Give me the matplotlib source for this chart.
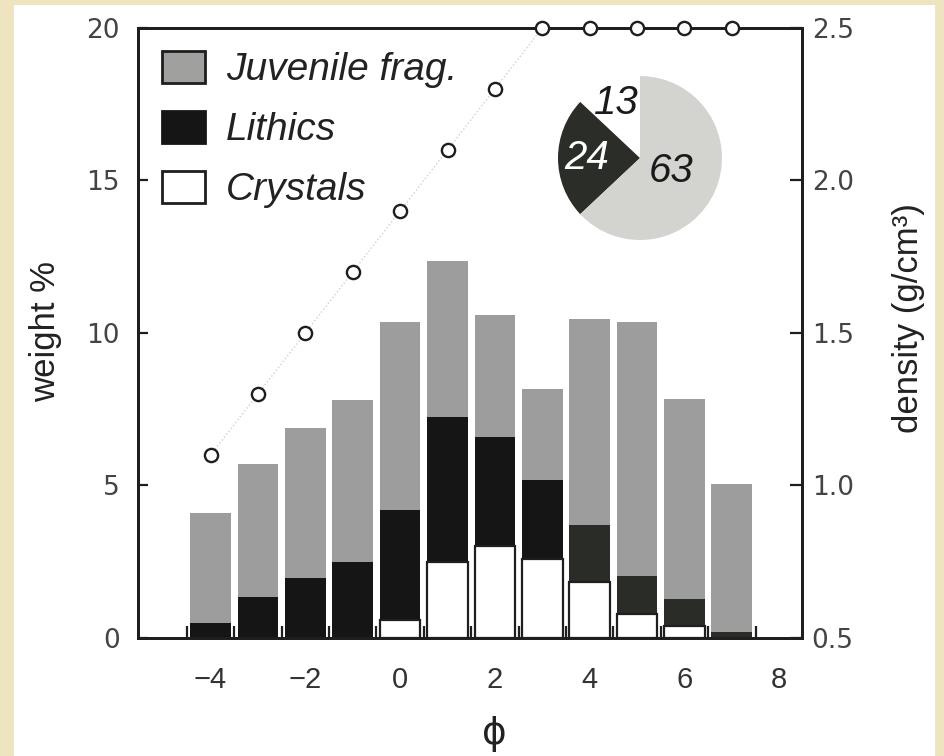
import numpy as np
import matplotlib
matplotlib.use('Agg')
import matplotlib.pyplot as plt
from matplotlib.patches import Patch, Rectangle

# ── data ────────────────────────────────────────────────────────────────────
phi = [-4, -3, -2, -1, 0, 1, 2, 3, 4, 5, 6, 7]
crystals = [0.0, 0.0, 0.0, 0.0, 0.6, 2.5, 3.0, 2.6, 1.85, 0.8, 0.4, 0.0]
lithics = [0.5, 1.35, 1.97, 2.5, 3.6, 4.75, 3.6, 2.58, 1.85, 1.24, 0.88, 0.2]
juvenile = [3.6, 4.35, 4.93, 5.3, 6.15, 5.1, 4.0, 2.97, 6.75, 8.31, 6.57, 4.85]
density = [1.1, 1.3, 1.5, 1.7, 1.9, 2.1, 2.3, 2.5, 2.5, 2.5, 2.5, 2.5]

pie_values = [13, 24, 63]
pie_labels = ['13', '24', '63']

legend_labels = ['Juvenile frag.', 'Lithics', 'Crystals']

# ── style ───────────────────────────────────────────────────────────────────
NARROW = ['Liberation Sans Narrow', 'Liberation Sans', 'DejaVu Sans']
SANS = ['Liberation Sans', 'DejaVu Sans']
GREY = '#9c9d9c'
LITH_A = '#151515'
LITH_B = '#2a2c28'
INK = '#1e1e1e'

fig = plt.figure(figsize=(9.44, 7.56), dpi=100, facecolor='#efe4c0')
fig.patches.append(Rectangle((0.0148, 0.0), 0.9756, 0.9934, transform=fig.transFigure,
                             facecolor='white', edgecolor='none', zorder=-5))

ax = fig.add_axes([0.1462, 0.1561, 0.7034, 0.8069])
ax.set_facecolor('white')

crys = np.array(crystals)
lith = np.array(lithics)
juv = np.array(juvenile)
lith_colors = [LITH_A if p < 4 else LITH_B for p in phi]

W = 0.86
ax.bar(phi, juv, bottom=crys + lith, width=W, color=GREY, edgecolor='none', zorder=1)
ax.bar(phi, lith, bottom=crys, width=W, color=lith_colors, edgecolor='none', zorder=1)
ax.bar(phi, crys, width=W, color='white', edgecolor=INK, linewidth=1.6, zorder=1.2)

ax.set_xlim(-5.53, 8.48)
ax.set_ylim(0, 20)
ax.set_xticks([-4, -2, 0, 2, 4, 6, 8])
ax.set_xticks(np.arange(-4.5, 8.0, 1.0), minor=True)
ax.set_yticks([0, 5, 10, 15, 20])
ax.tick_params(axis='x', which='major', length=0, pad=20, labelsize=21, labelcolor='#333')
ax.tick_params(axis='x', which='minor', direction='in', length=9, width=1.6, color=INK)
ax.tick_params(axis='y', which='major', direction='in', length=7.5, width=1.6, color=INK,
               pad=13, labelsize=19, labelcolor='#444')
for lab in ax.get_xticklabels():
    lab.set_family(NARROW)
for lab in ax.get_yticklabels():
    lab.set_family('DejaVu Sans')
for sp in ax.spines.values():
    sp.set_linewidth(2.0)
    sp.set_color(INK)

ax.set_ylabel('weight %', fontsize=25, family=SANS, color='#222')
ax.yaxis.set_label_coords(-0.1145, 0.5025)
ax.set_xlabel('ϕ', fontsize=27, family='DejaVu Sans', color='#222')
ax.xaxis.set_label_coords(0.536, -0.128)

handles = [Patch(facecolor='#a0a09f', edgecolor=INK, linewidth=2),
           Patch(facecolor=LITH_A, edgecolor=LITH_A, linewidth=2),
           Patch(facecolor='white', edgecolor=INK, linewidth=2)]
leg = ax.legend(handles, legend_labels, loc='upper left', bbox_to_anchor=(0.036, 0.963),
                frameon=False, borderpad=0, borderaxespad=0, handlelength=1.1,
                handleheight=0.9, handletextpad=0.55, labelspacing=0.58,
                prop={'family': NARROW, 'style': 'italic', 'size': 28})
for t in leg.get_texts():
    t.set_color('#222')

# density on the right axis
ax2 = ax.twinx()
ax2.set_ylim(0.5, 2.5)
ax2.plot(phi, density, ls=':', lw=1, color='#d0d0d0', zorder=2)
ax2.plot(phi, density, ls='none', marker='o', ms=9.5, mfc='white', mec=INK, mew=1.7,
         clip_on=False, zorder=3)
ax2.set_yticks([0.5, 1.0, 1.5, 2.0, 2.5])
ax2.set_yticklabels(['0.5', '1.0', '1.5', '2.0', '2.5'])
ax2.tick_params(axis='y', direction='in', length=9, width=1.6, color=INK, pad=7,
                labelsize=19, labelcolor='#444')
for lab in ax2.get_yticklabels():
    lab.set_family('DejaVu Sans')
for sp in ax2.spines.values():
    sp.set_linewidth(2.0)
    sp.set_color(INK)
ax2.set_ylabel('density (g/cm³)', fontsize=25, family=SANS, color='#222')
ax2.yaxis.set_label_coords(1.1355, 0.524)

# inset pie
axp = fig.add_axes([0.5911, 0.6825, 0.1737, 0.2169])
wedges, _ = axp.pie(pie_values, colors=['white', '#2b2d29', '#d3d4d0'], startangle=90,
                    counterclock=True, radius=1.0)
axp.set_xlim(-1, 1)
axp.set_ylim(-1, 1)
label_dist = [0.73, 0.65, 0.41]
label_col = ['#1a1a1a', 'white', '#1a1a1a']
for w, txt, d, c in zip(wedges, pie_labels, label_dist, label_col):
    ang = np.deg2rad((w.theta1 + w.theta2) / 2)
    axp.text(d * np.cos(ang), d * np.sin(ang), txt, ha='center', va='center',
             fontsize=29, style='italic', family=NARROW, color=c)

fig.savefig('out.png', dpi=100, facecolor=fig.get_facecolor())
